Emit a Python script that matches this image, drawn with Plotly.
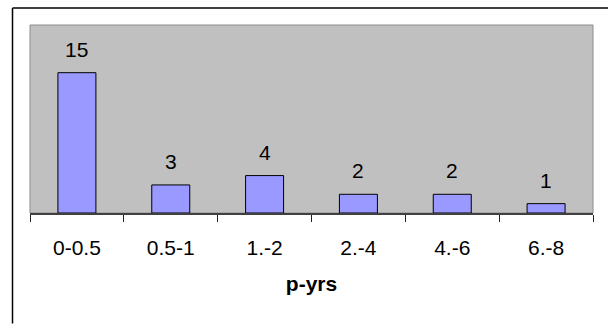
import plotly.graph_objects as go

# Distribution of counts by p-yrs band
categories = ["0-0.5", "0.5-1", "1.-2", "2.-4", "4.-6", "6.-8"]
counts = [15, 3, 4, 2, 2, 1]
axis_title = "p-yrs"

W, H = 608, 324
# plot area in pixels
PL, PR, PT, PB = 29.5, 592.7, 25, 212.7

FONT = "Liberation Sans, Arial, sans-serif"

fig = go.Figure()
fig.add_trace(go.Bar(
    x=categories,
    y=counts,
    marker=dict(color="#9999FF", line=dict(color="#000000", width=1)),
    width=0.405,
    hoverinfo="skip",
))

for c, v in zip(categories, counts):
    fig.add_annotation(
        x=c, y=v, text=str(v), showarrow=False,
        xref="x", yref="y", yanchor="bottom", yshift=10,
        font=dict(family=FONT, size=21, color="#000000"),
    )

pw = PR - PL
ph = PB - PT


def px_x(x):
    return (x - PL) / pw


def px_y(y):
    return (PB - y) / ph


# outer frame (left and top edges visible)
fig.add_shape(type="line", xref="paper", yref="paper",
              x0=px_x(12), x1=px_x(12), y0=px_y(8), y1=px_y(323),
              line=dict(color="#000000", width=1.5))
fig.add_shape(type="line", xref="paper", yref="paper",
              x0=px_x(12), x1=px_x(610), y0=px_y(8), y1=px_y(8),
              line=dict(color="#000000", width=1.5))
# plot area border
fig.add_shape(type="rect", xref="paper", yref="paper",
              x0=0, x1=1, y0=0, y1=1, layer="below",
              line=dict(color="#8C8C8C", width=1))

fig.update_layout(
    width=W, height=H,
    margin=dict(l=PL, r=W - PR, t=PT, b=H - PB, pad=0),
    paper_bgcolor="#FFFFFF",
    plot_bgcolor="#C0C0C0",
    showlegend=False,
    font=dict(family=FONT, size=21, color="#000000"),
    xaxis=dict(
        type="category",
        range=[-0.5, len(categories) - 0.5],
        showline=True, linecolor="#404040", linewidth=1.5,
        ticks="outside", tickson="boundaries", ticklen=7, tickwidth=1,
        tickcolor="#202020",
        ticklabelstandoff=15,
        showgrid=False, zeroline=False,
        tickfont=dict(family=FONT, size=21),
        title=dict(text="<b>" + axis_title + "</b>", standoff=18,
                   font=dict(family=FONT, size=21)),
    ),
    yaxis=dict(
        range=[0, 20.1],
        showticklabels=False, ticks="",
        showgrid=False, zeroline=False, showline=False,
    ),
)

fig.write_html("out.html")
